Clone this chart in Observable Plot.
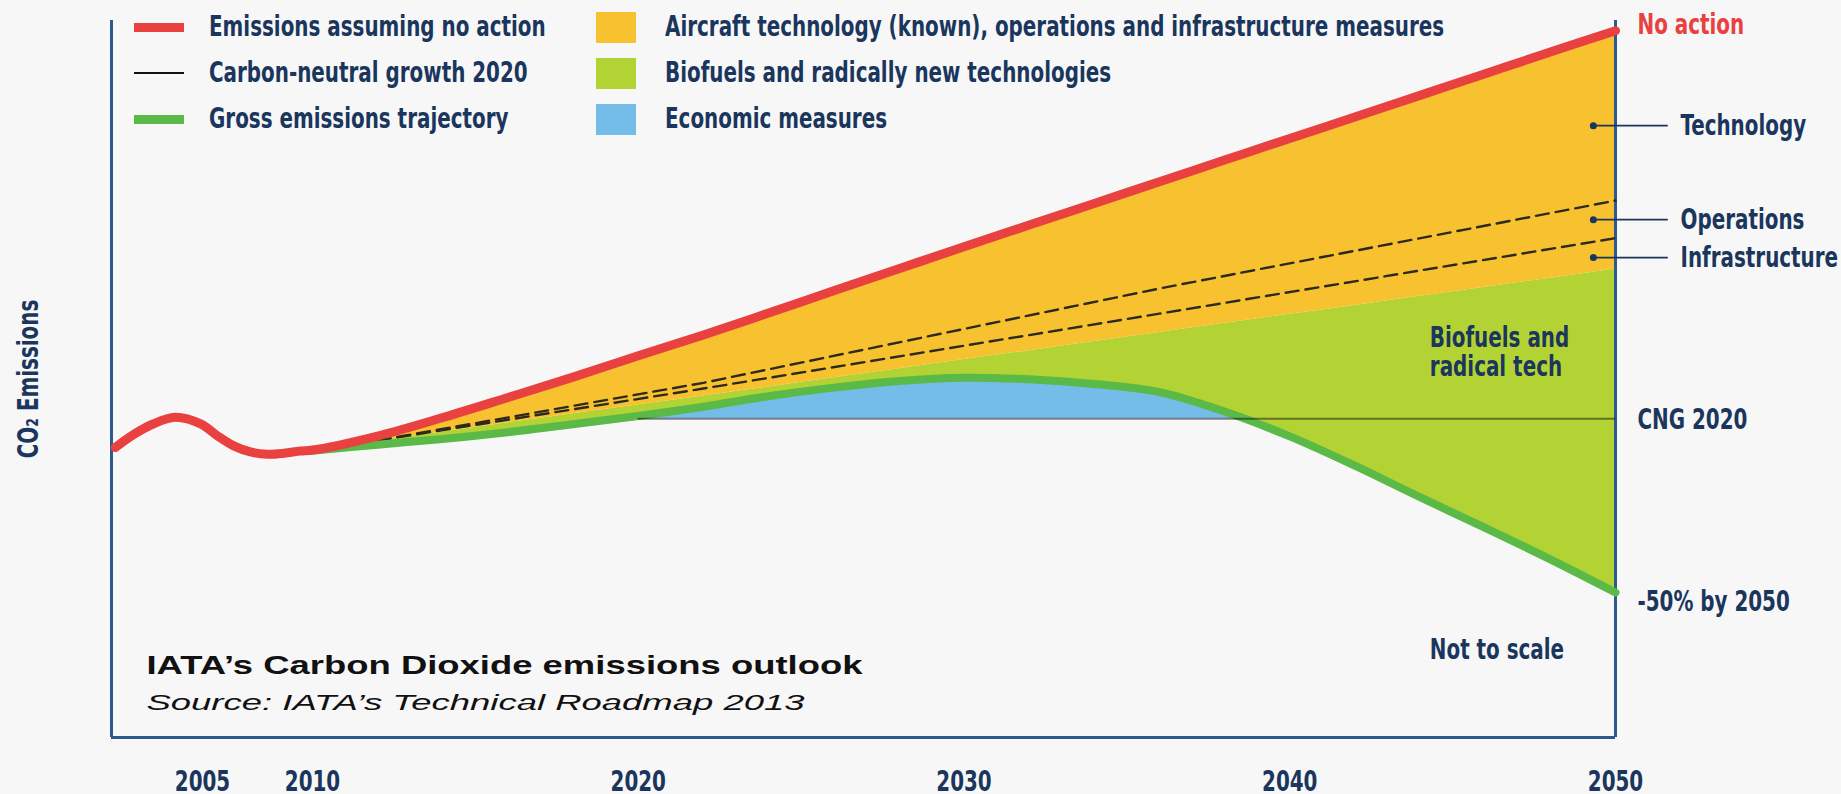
<!DOCTYPE html>
<html>
<head>
<meta charset="utf-8">
<script src="https://cdn.jsdelivr.net/npm/d3@7"></script>
<script src="https://cdn.jsdelivr.net/npm/@observablehq/plot@0.6"></script>
<style>
  html, body { margin: 0; padding: 0; background: #f7f7f7; }
  #wrap { position: relative; width: 1841px; height: 794px; overflow: hidden; }
  .leg-text { position: absolute; white-space: nowrap; font-family: "Liberation Sans Narrow", "Arial Narrow", "DejaVu Sans Condensed", sans-serif; font-weight: bold; font-size: 28px; line-height: 32px; color: #1b365d; transform-origin: 0 50%; }
  .leg-sw { position: absolute; }
</style>
</head>
<body>
<div id="wrap"></div>
<script>
// ---------------- DATA (index units, not to scale; CNG 2020 level = 100) ----------------
const years      = [2010, 2012, 2014, 2016, 2018, 2020, 2022, 2024, 2026, 2028, 2030, 2032, 2034, 2036, 2038, 2040, 2042, 2044, 2046, 2048, 2050];
const noAction   = [90.2, 94.6, 100.4, 106.7, 113.1, 119.8, 126.3, 133.2, 140.2, 147.1, 154.0, 160.8, 167.6, 174.4, 181.2, 188.0, 194.7, 201.5, 208.3, 215.1, 221.8];
const biofuelTop = [90.2, 93.1, 95.9, 98.8, 101.6, 104.4, 107.2, 110.0, 112.9, 115.7, 118.6, 121.4, 124.3, 127.1, 130.0, 132.8, 135.6, 138.5, 141.3, 144.1, 147.0];
const gross      = [90.0, 91.9, 93.7, 95.8, 98.3, 100.9, 103.8, 107.1, 109.8, 111.9, 112.9, 112.4, 110.9, 108.4, 102.3, 94.5, 85.3, 75.4, 65.8, 55.9, 45.5];

const histYears     = [2004.04, 2004.25, 2004.45, 2004.70, 2004.98, 2005.67, 2006.42, 2007.18, 2007.94, 2008.70, 2009.45];
const histEmissions = [91.0, 95.2, 98.3, 100.5, 98.4, 94.7, 91.5, 89.6, 88.9, 89.2, 89.9];

const dashYears         = [2012, 2022, 2036, 2050];
const operationsTop     = [93.2, 111.3, 140.9, 168.5];
const infrastructureTop = [93.2, 109.5, 133.0, 156.7];

const xTicks = [2005, 2010, 2020, 2030, 2040, 2050];
const cngLevel = 100;
const cngYear = 2020;
const startYear = 2004;
const endYear = 2050;
const yTop = 225;

const legendLineLabels = ["Emissions assuming no action", "Carbon-neutral growth 2020", "Gross emissions trajectory"];
const legendAreaLabels = ["Aircraft technology (known), operations and infrastructure measures", "Biofuels and radically new technologies", "Economic measures"];

const endLabels = ["No action", "CNG 2020", "-50% by 2050"];
const endLevels = [223.7, 99.5, 42.4];
const calloutLabels = ["Technology", "Operations", "Infrastructure"];
const calloutLevels = [192.0, 162.5, 150.6];

const noteLabels = ["Biofuels and", "radical tech", "Not to scale"];
const noteLevels = [125.2, 116.1, 27.3];
const noteYear = 2044.3;

const titleText = "IATA\u2019s Carbon Dioxide emissions outlook";
const sourceText = "Source: IATA\u2019s Technical Roadmap 2013";
const yLabel = "CO\u2082 Emissions";

// ---------------- STYLE ----------------
const C = {
  red: "#e8413f", green: "#5bb947", lightGreen: "#b3d334", orange: "#f8c12f", blue: "#73bde8",
  navy: "#1b365d", axis: "#2d5a8e", dash: "#2b2a1c", black: "#111111"
};
const NARROW = '"Liberation Sans Narrow", "Arial Narrow", "DejaVu Sans Condensed", sans-serif';
const SANS = '"Liberation Sans", Arial, sans-serif';
const CURVE = "catmull-rom";
const SQUEEZE = 0.79;   // horizontal condensing of the narrow labels

const W = 1841, H = 794, mL = 111, mR = 226, mT = 20, mB = 57;

// ---------------- TABLES ----------------
const rows = years.map((year, i) => ({year, noAction: noAction[i], biofuelTop: biofuelTop[i], gross: gross[i]}));
const redRows = histYears.map((year, i) => ({year, value: histEmissions[i]}))
  .concat(years.map((year, i) => ({year, value: noAction[i]})));
const dashRows = dashYears.map((year, i) => ({year, operations: operationsTop[i], infrastructure: infrastructureTop[i]}));
const callouts = calloutLabels.map((label, i) => ({label, level: calloutLevels[i]}));
const endRows = endLabels.map((label, i) => ({label, level: endLevels[i]}));
const notes = noteLabels.map((label, i) => ({label, level: noteLevels[i]}));

const calloutDotYear = 2049.32;
const calloutLineEnd = 2051.62;

const svg = Plot.plot({
  width: W, height: H,
  marginLeft: mL, marginRight: mR, marginTop: mT, marginBottom: mB,
  style: {background: "transparent", fontFamily: NARROW, overflow: "visible"},
  x: {type: "linear", domain: [startYear, 2005, 2010, endYear], range: [mL, mL + 91, mL + 201, W - mR], label: null},
  y: {domain: [0, yTop], axis: null},
  marks: [
    Plot.areaY(rows, {filter: d => d.year >= cngYear && d.year <= 2040, x: "year", y1: cngLevel, y2: "gross", fill: C.blue, curve: CURVE}),
    Plot.areaY(rows, {x: "year", y1: "gross", y2: "biofuelTop", fill: C.lightGreen, curve: CURVE}),
    Plot.areaY(rows, {x: "year", y1: "biofuelTop", y2: "noAction", fill: C.orange, curve: CURVE}),
    Plot.ruleX([startYear, endYear], {y1: 0, y2: yTop, stroke: C.axis, strokeWidth: 3}),
    Plot.ruleY([0], {x1: startYear, x2: endYear, stroke: C.axis, strokeWidth: 3}),
    Plot.line(dashRows, {x: "year", y: "operations", stroke: C.dash, strokeWidth: 2.4, strokeDasharray: "13,7"}),
    Plot.line(dashRows, {x: "year", y: "infrastructure", stroke: C.dash, strokeWidth: 2.4, strokeDasharray: "13,7"}),
    Plot.line(rows, {x: "year", y: "gross", stroke: C.green, strokeWidth: 8, curve: CURVE}),
    Plot.ruleY([cngLevel], {x1: cngYear, x2: endYear, stroke: C.black, strokeOpacity: 0.5, strokeWidth: 2}),
    Plot.line(redRows, {x: "year", y: "value", stroke: C.red, strokeWidth: 9, curve: CURVE}),
    Plot.ruleY(callouts, {y: "level", x1: calloutDotYear, x2: calloutLineEnd, stroke: C.navy, strokeWidth: 1.6}),
    Plot.dot(callouts, {x: calloutDotYear, y: "level", r: 3.5, fill: C.navy, stroke: "none"}),
    Plot.text(callouts, {x: endYear, y: "level", text: "label", dx: 65, textAnchor: "start", fontSize: 28, fontWeight: "bold", fill: C.navy}),
    Plot.text(endRows.slice(0, 1), {x: endYear, y: "level", text: "label", dx: 22, textAnchor: "start", fontSize: 28, fontWeight: "bold", fill: C.red}),
    Plot.text(endRows.slice(1), {x: endYear, y: "level", text: "label", dx: 22, textAnchor: "start", fontSize: 28, fontWeight: "bold", fill: C.navy}),
    Plot.text(notes, {x: noteYear, y: "level", text: "label", textAnchor: "start", fontSize: 28, fontWeight: "bold", fill: C.navy}),
    Plot.text([yLabel], {frameAnchor: "left", dx: -82, rotate: -90, textAnchor: "middle", fontSize: 28, fontWeight: "bold", fill: C.navy}),
    Plot.text([titleText], {frameAnchor: "bottom-left", dx: 35, dy: -72, lineAnchor: "middle", textAnchor: "start", fontFamily: SANS, fontSize: 26, fontWeight: "bold", fill: C.black}),
    Plot.text([sourceText], {frameAnchor: "bottom-left", dx: 35, dy: -35, lineAnchor: "middle", textAnchor: "start", fontFamily: SANS, fontSize: 22, fontStyle: "italic", fill: C.black}),
    Plot.axisX(xTicks, {tickSize: 0, tickPadding: 34, fontSize: 28, fontWeight: "bold", fill: C.navy, tickFormat: d => String(d), label: null})
  ]
});

const wrap = document.getElementById("wrap");
wrap.appendChild(svg);

// condense the narrow labels; stretch title & source to the reference's wide setting
d3.select(svg).selectAll("text").each(function() {
  const t = this.textContent;
  if (!t) return;
  if (t === titleText) { this.setAttribute("textLength", 716); this.setAttribute("lengthAdjust", "spacingAndGlyphs"); return; }
  if (t === sourceText) { this.setAttribute("textLength", 658); this.setAttribute("lengthAdjust", "spacingAndGlyphs"); return; }
  const w = this.getComputedTextLength();
  if (w > 0) { this.setAttribute("textLength", (w * SQUEEZE).toFixed(1)); this.setAttribute("lengthAdjust", "spacingAndGlyphs"); }
});

// ---------------- LEGEND (HTML overlay at top of the chart) ----------------
const rowCenters = [27, 73, 119];
const lineColors = [C.red, C.black, C.green];
const lineThickness = [9, 2.5, 9];
const areaColors = [C.orange, C.lightGreen, C.blue];

function legendText(label, left, center) {
  const t = document.createElement("div");
  t.className = "leg-text";
  t.textContent = label;
  Object.assign(t.style, {left: left + "px", top: (center - 16) + "px", transform: `scaleX(${SQUEEZE})`});
  wrap.appendChild(t);
}
legendLineLabels.forEach((label, i) => {
  const sw = document.createElement("div");
  sw.className = "leg-sw";
  Object.assign(sw.style, {left: "134px", width: "50px", top: (rowCenters[i] - lineThickness[i] / 2) + "px", height: lineThickness[i] + "px", background: lineColors[i]});
  wrap.appendChild(sw);
  legendText(label, 209, rowCenters[i]);
});
legendAreaLabels.forEach((label, i) => {
  const sw = document.createElement("div");
  sw.className = "leg-sw";
  Object.assign(sw.style, {left: "596px", width: "40px", top: (rowCenters[i] - 15.5) + "px", height: "31px", background: areaColors[i]});
  wrap.appendChild(sw);
  legendText(label, 665, rowCenters[i]);
});
</script>
</body>
</html>
